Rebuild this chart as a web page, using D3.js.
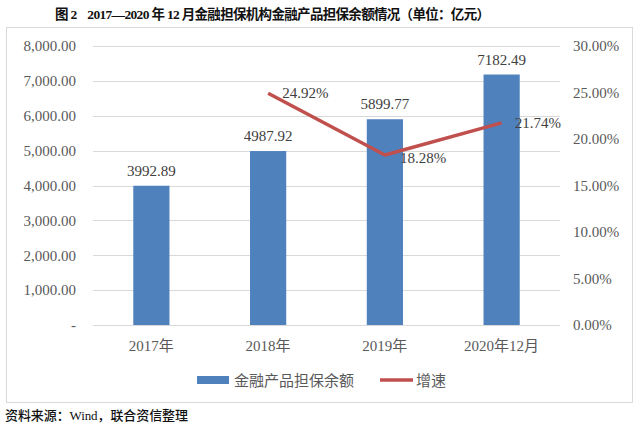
<!DOCTYPE html>
<html>
<head>
<meta charset="UTF-8">
<script src="https://d3js.org/d3.v7.min.js"></script>
<style>
  body { margin: 0; background: #fff; }
  svg { display: block; }
  text { font-family: "Liberation Serif", "Noto Sans CJK SC", serif; fill: #595959; }
</style>
</head>
<body>
<div id="chart"></div>
<script>
// data
var years = ["2017年", "2018年", "2019年", "2020年12月"];
var balance = [3992.89, 4987.92, 5899.77, 7182.49];
var growth = [null, 24.92, 18.28, 21.74];
var leftTicks = [0, 1000, 2000, 3000, 4000, 5000, 6000, 7000, 8000];
var rightTicks = [0, 5, 10, 15, 20, 25, 30];

var width = 640, height = 427;
var svg = d3.select("#chart").append("svg")
    .attr("width", width)
    .attr("height", height);

// title
svg.append("text")
    .attr("x", 55).attr("y", 19)
    .attr("textLength", 435)
    .attr("lengthAdjust", "spacing")
    .style("font-size", "13.5px")
    .style("font-weight", "bold")
    .style("fill", "#111")
    .text("图\u00a02\u00a0\u00a0\u00a0\u00a02017—2020\u00a0年\u00a012\u00a0月金融担保机构金融产品担保余额情况（单位：亿元）");

// chart frame
svg.append("rect")
    .attr("x", 6.5).attr("y", 27.5)
    .attr("width", 626).attr("height", 375)
    .attr("fill", "none")
    .attr("stroke", "#d9d9d9");

var x = d3.scaleBand().domain(years).range([93, 560]).paddingInner(0.69).paddingOuter(0.345);
var y = d3.scaleLinear().domain([0, 8000]).range([325, 46]);
var y2 = d3.scaleLinear().domain([0, 30]).range([325, 46]);

// gridlines
svg.append("g").selectAll("line")
    .data(leftTicks).enter().append("line")
    .attr("x1", 93).attr("x2", 560)
    .attr("y1", function (d) { return Math.round(y(d)) + 0.5; })
    .attr("y2", function (d) { return Math.round(y(d)) + 0.5; })
    .attr("stroke", "#d9d9d9");

// left axis
var fmt = d3.format(",.2f");
var leftAxis = d3.axisLeft(y).tickValues(leftTicks).tickSize(0).tickPadding(0)
    .tickFormat(function (d) { return d === 0 ? "-" : fmt(d); });
var gl = svg.append("g").attr("transform", "translate(76,0)").call(leftAxis);
gl.select(".domain").remove();
gl.selectAll("text").style("font-size", "15px").style("fill", "#595959")
    .style("font-family", "Liberation Serif");

// right axis
var rightAxis = d3.axisRight(y2).tickValues(rightTicks).tickSize(0).tickPadding(0)
    .tickFormat(function (d) { return d.toFixed(2) + "%"; });
var gr = svg.append("g").attr("transform", "translate(573,0)").call(rightAxis);
gr.select(".domain").remove();
gr.selectAll("text").style("font-size", "15px").style("fill", "#595959")
    .style("font-family", "Liberation Serif");

// bars
svg.append("g").selectAll("rect")
    .data(balance).enter().append("rect")
    .attr("x", function (d, i) { return x(years[i]); })
    .attr("width", x.bandwidth())
    .attr("y", function (d) { return y(d); })
    .attr("height", function (d) { return y(0) - y(d); })
    .attr("fill", "#4f81bd");

// bar labels
svg.append("g").selectAll("text")
    .data(balance).enter().append("text")
    .attr("x", function (d, i) { return x(years[i]) + x.bandwidth() / 2; })
    .attr("y", function (d) { return y(d) - 10; })
    .attr("text-anchor", "middle")
    .style("font-size", "15px")
    .style("fill", "#404040")
    .text(function (d) { return d.toFixed(2); });

// growth line
var pts = [];
growth.forEach(function (g, i) { if (g !== null) pts.push({ c: years[i], v: g }); });
var line = d3.line()
    .x(function (d) { return x(d.c) + x.bandwidth() / 2; })
    .y(function (d) { return y2(d.v); });
svg.append("path")
    .datum(pts)
    .attr("d", line)
    .attr("fill", "none")
    .attr("stroke", "#c0504d")
    .attr("stroke-width", 3.5)
    .attr("stroke-linejoin", "round");

// growth labels
var offs = [[14, 5], [15, 8], [13, 5]];
svg.append("g").selectAll("text")
    .data(pts).enter().append("text")
    .attr("x", function (d, i) { return x(d.c) + x.bandwidth() / 2 + offs[i][0]; })
    .attr("y", function (d, i) { return y2(d.v) + offs[i][1]; })
    .style("font-size", "15px")
    .style("fill", "#404040")
    .text(function (d) { return d.v.toFixed(2) + "%"; });

// x labels
svg.append("g").selectAll("text")
    .data(years).enter().append("text")
    .attr("x", function (d) { return x(d) + x.bandwidth() / 2; })
    .attr("y", 351)
    .attr("text-anchor", "middle")
    .style("font-size", "15px")
    .text(function (d) { return d; });

// legend
var lg = svg.append("g");
lg.append("rect").attr("x", 197).attr("y", 376).attr("width", 32).attr("height", 8).attr("fill", "#4f81bd");
lg.append("text").attr("x", 234).attr("y", 385.5).style("font-size", "15px").text("金融产品担保余额");
lg.append("line").attr("x1", 380).attr("x2", 413).attr("y1", 380).attr("y2", 380)
    .attr("stroke", "#c0504d").attr("stroke-width", 3.5);
lg.append("text").attr("x", 416).attr("y", 385.5).style("font-size", "15px").text("增速");

// source
svg.append("text")
    .attr("x", 5).attr("y", 420)
    .attr("textLength", 183)
    .attr("lengthAdjust", "spacing")
    .style("font-size", "13px")
    .style("font-weight", "500")
    .style("fill", "#111")
    .text("资料来源：Wind，联合资信整理");
</script>
</body>
</html>
